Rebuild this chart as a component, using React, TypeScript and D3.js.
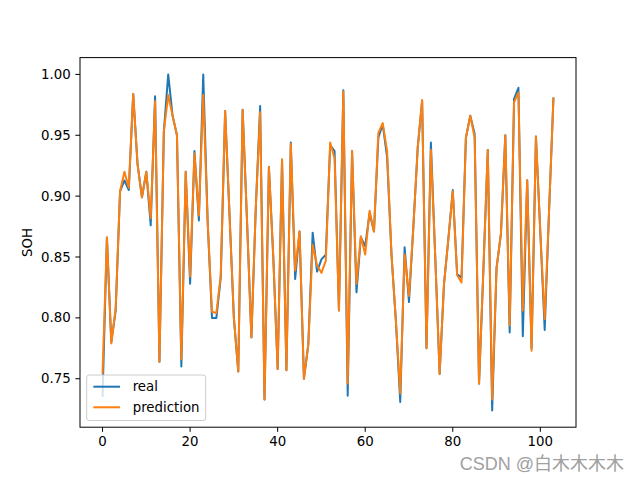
import React from "react";
import * as d3 from "d3";

const realValues: number[] = [
  0.735, 0.866, 0.780, 0.806, 0.904, 0.913, 0.905, 0.984, 0.926, 0.899,
  0.920, 0.876, 0.982, 0.764, 0.953, 1.000, 0.966, 0.950, 0.760, 0.920,
  0.828, 0.937, 0.880, 1.000, 0.880, 0.800, 0.800, 0.833, 0.970, 0.885,
  0.800, 0.756, 0.971, 0.880, 0.784, 0.890, 0.974, 0.733, 0.924, 0.850,
  0.758, 0.930, 0.757, 0.944, 0.832, 0.871, 0.750, 0.778, 0.870, 0.838,
  0.848, 0.852, 0.942, 0.937, 0.806, 0.987, 0.736, 0.937, 0.821, 0.866,
  0.859, 0.886, 0.871, 0.948, 0.959, 0.932, 0.852, 0.798, 0.731, 0.858,
  0.813, 0.875, 0.940, 0.978, 0.775, 0.944, 0.850, 0.754, 0.828, 0.865,
  0.905, 0.836, 0.833, 0.948, 0.966, 0.951, 0.746, 0.840, 0.938, 0.724,
  0.841, 0.869, 0.950, 0.788, 0.980, 0.989, 0.785, 0.913, 0.775, 0.949,
  0.870, 0.790, 0.888, 0.981,
];

const predValues: number[] = [
  0.754, 0.866, 0.779, 0.808, 0.904, 0.920, 0.907, 0.984, 0.926, 0.899,
  0.920, 0.882, 0.978, 0.764, 0.953, 0.983, 0.966, 0.950, 0.766, 0.920,
  0.834, 0.935, 0.884, 0.983, 0.880, 0.805, 0.804, 0.835, 0.970, 0.885,
  0.800, 0.756, 0.971, 0.880, 0.784, 0.890, 0.969, 0.733, 0.924, 0.850,
  0.758, 0.930, 0.757, 0.943, 0.839, 0.871, 0.750, 0.778, 0.860, 0.843,
  0.837, 0.847, 0.944, 0.931, 0.806, 0.986, 0.746, 0.937, 0.828, 0.867,
  0.852, 0.888, 0.871, 0.952, 0.960, 0.937, 0.852, 0.798, 0.738, 0.852,
  0.818, 0.875, 0.940, 0.979, 0.775, 0.938, 0.850, 0.754, 0.828, 0.865,
  0.904, 0.835, 0.829, 0.948, 0.966, 0.948, 0.746, 0.840, 0.938, 0.733,
  0.841, 0.869, 0.950, 0.794, 0.977, 0.985, 0.806, 0.913, 0.773, 0.949,
  0.870, 0.799, 0.888, 0.981,
];

const xTicks: number[] = [0, 20, 40, 60, 80, 100];
const yTicks: number[] = [0.75, 0.8, 0.85, 0.9, 0.95, 1.0];
const seriesNames: string[] = ["real", "prediction"];
const seriesColors: string[] = ["#1f77b4", "#ff7f0e"];

const W = 640;
const H = 480;
const left = 80;
const right = 576;
const top = 57.6;
const bottom = 427.2;
const FONT = "DejaVu Sans, sans-serif";

export default function App() {
  const n = realValues.length;
  const xSpan = n - 1;
  const x = d3
    .scaleLinear()
    .domain([-0.05 * xSpan, xSpan * 1.05])
    .range([left, right]);
  const all = realValues.concat(predValues);
  const [lo, hi] = d3.extent(all) as [number, number];
  const pad = (hi - lo) * 0.05;
  const y = d3.scaleLinear().domain([lo - pad, hi + pad]).range([bottom, top]);

  const line = d3
    .line<number>()
    .x((_, i) => x(i))
    .y((d) => y(d));

  const series = [realValues, predValues];
  const fmt = d3.format(".2f");

  const legX = 86.7;
  const legY = 375;
  const legW = 119;
  const legH = 45.5;

  return (
    <svg
      width={W}
      height={H}
      style={{ position: "absolute", left: 0, top: 0, background: "#fff" }}
      fontFamily={FONT}
    >
      <rect x={0} y={0} width={W} height={H} fill="#fff" />
      <defs>
        <clipPath id="plotclip">
          <rect x={left} y={top} width={right - left} height={bottom - top} />
        </clipPath>
      </defs>
      <g clipPath="url(#plotclip)">
        {series.map((s, k) => (
          <path
            key={k}
            d={line(s) || ""}
            fill="none"
            stroke={seriesColors[k]}
            strokeWidth={2}
            strokeLinejoin="round"
            strokeLinecap="butt"
          />
        ))}
      </g>
      <rect
        x={left}
        y={top}
        width={right - left}
        height={bottom - top}
        fill="none"
        stroke="#000"
        strokeWidth={1}
      />
      {xTicks.map((t) => (
        <g key={"x" + t}>
          <line x1={x(t)} x2={x(t)} y1={bottom} y2={bottom + 4.67} stroke="#000" strokeWidth={1} />
          <text x={x(t)} y={bottom + 9.3} fontSize={13.33} textAnchor="middle" dominantBaseline="hanging">
            {t}
          </text>
        </g>
      ))}
      {yTicks.map((t) => (
        <g key={"y" + t}>
          <line x1={left - 4.67} x2={left} y1={y(t)} y2={y(t)} stroke="#000" strokeWidth={1} />
          <text x={left - 9.3} y={y(t)} fontSize={13.33} textAnchor="end" dominantBaseline="central">
            {fmt(t)}
          </text>
        </g>
      ))}
      <text
        transform={`translate(${32},${(top + bottom) / 2}) rotate(-90)`}
        fontSize={13.33}
        textAnchor="middle"
      >
        SOH
      </text>
      <g>
        <rect
          x={legX}
          y={legY}
          width={legW}
          height={legH}
          rx={2.5}
          fill="#fff"
          fillOpacity={0.8}
          stroke="#cccccc"
          strokeWidth={1}
        />
        {seriesNames.map((name, k) => {
          const cy = legY + 11.7 + k * 20.6;
          return (
            <g key={name}>
              <line
                x1={legX + 6.6}
                x2={legX + 33.3}
                y1={cy}
                y2={cy}
                stroke={seriesColors[k]}
                strokeWidth={2}
              />
              <text x={legX + 46} y={cy} fontSize={13.33} dominantBaseline="central">
                {name}
              </text>
            </g>
          );
        })}
      </g>
      <text
        x={624}
        y={470}
        fontSize={18}
        textAnchor="end"
        fill="#a0a0a0"
        fontFamily="Liberation Sans, Noto Sans CJK SC, sans-serif"
      >
        CSDN @白木木木木
      </text>
    </svg>
  );
}
